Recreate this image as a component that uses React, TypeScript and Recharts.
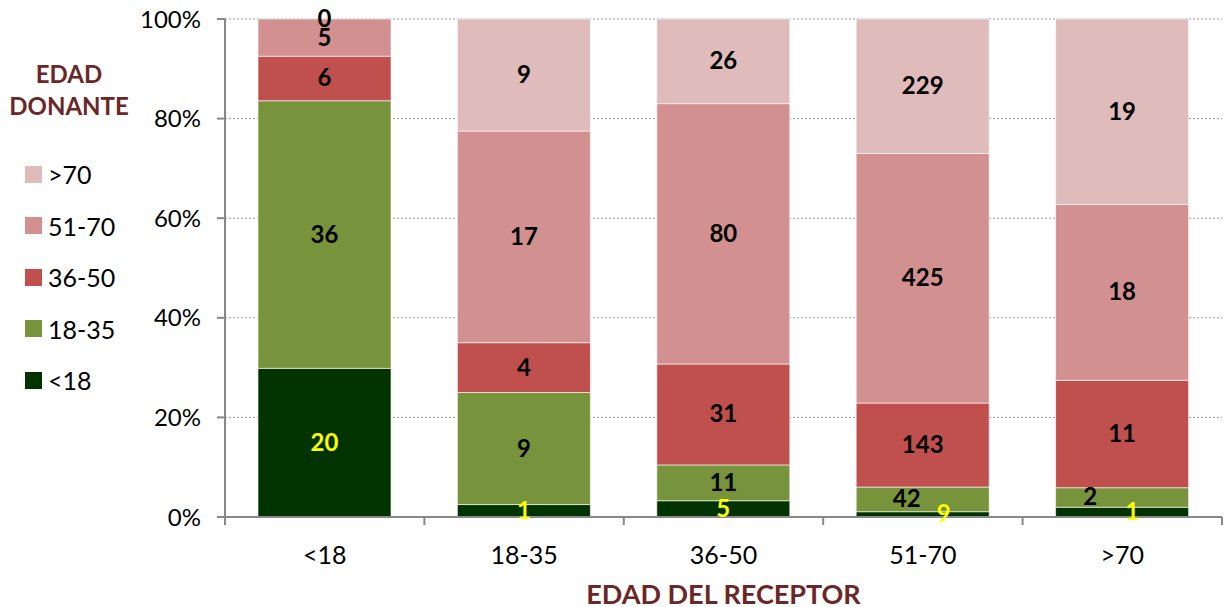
import { Bar, BarChart, CartesianGrid, LabelList, XAxis, YAxis } from "recharts";

// receptor age groups (x categories)
const receptorAges = ["<18", "18-35", "36-50", "51-70", ">70"];

// donor age groups (stacked series), bottom to top
const donorKeys = ["d18", "d1835", "d3650", "d5170", "d70"];
const donorLabels = ["<18", "18-35", "36-50", "51-70", ">70"];

// counts per receptor group
const donorUnder18 = [20, 1, 5, 9, 1];
const donor18to35 = [36, 9, 11, 42, 2];
const donor36to50 = [6, 4, 31, 143, 11];
const donor51to70 = [5, 17, 80, 425, 18];
const donorOver70 = [0, 9, 26, 229, 19];

const yTicks = [0, 0.2, 0.4, 0.6, 0.8, 1];

const seriesValues = [donorUnder18, donor18to35, donor36to50, donor51to70, donorOver70];
const colors = ["#003300", "#77933C", "#C0504D", "#D29090", "#E0BBBB"];
const labelColors = ["#FFFF00", "#000000", "#000000", "#000000", "#000000"];

const data = receptorAges.map((name, i) => {
  const row: Record<string, string | number> = { name };
  donorKeys.forEach((k, s) => {
    row[k] = seriesValues[s][i];
  });
  return row;
});

// manual label nudges (like the hand-moved labels in the original)
const nudgeX: Record<string, number> = { "0-3": 21, "0-4": 10, "1-3": -16, "1-4": -32 };

const FONT = "Lato, 'Open Sans', sans-serif";
const TITLE = "#6B2626";
const PLOT_LEFT = 225;
const PLOT_RIGHT = 1222;
const BAND = (PLOT_RIGHT - PLOT_LEFT) / receptorAges.length;
const HALF_BAND = BAND / 2;

function labelText(key: string, x: number, y: number, v: number, fill: string) {
  return (
    <text
      key={key}
      x={x}
      y={y}
      dy={8}
      textAnchor="middle"
      fontFamily={FONT}
      fontWeight="bold"
      fontSize={24}
      fill={fill}
    >
      {v}
    </text>
  );
}

function makeLabel(series: number) {
  return (props: any) => {
    const { x, y, width, height } = props;
    const mid = Number(x) + Number(width) / 2;
    // zero-size segments are skipped by recharts, so find the category from the position
    const cat = Math.round((mid - PLOT_LEFT - HALF_BAND) / BAND);
    const v = seriesValues[series][cat];
    const cx = mid + (nudgeX[`${series}-${cat}`] ?? 0);
    const cy = Number(y) + Number(height) / 2;
    const next = seriesValues[series + 1];
    return (
      <g>
        {labelText("v", cx, cy, v, labelColors[series])}
        {next && next[cat] === 0 && labelText("z", mid, Number(y), 0, labelColors[series + 1])}
      </g>
    );
  };
}

function XTick(props: any) {
  const { x, y, payload, index } = props;
  const last = index === receptorAges.length - 1;
  return (
    <g>
      <line x1={x - HALF_BAND} x2={x - HALF_BAND} y1={y - 8} y2={y} stroke="#888888" strokeWidth={2} />
      {last && <line x1={x + HALF_BAND} x2={x + HALF_BAND} y1={y - 8} y2={y} stroke="#888888" strokeWidth={2} />}
      <text x={x} y={y + 39} textAnchor="middle" fontFamily={FONT} fontSize={25} fill="#000">
        {payload.value}
      </text>
    </g>
  );
}

function DonorLegend() {
  const rows = donorLabels.map((l, i) => ({ l, c: colors[i] })).reverse();
  return (
    <div style={{ fontFamily: FONT, position: "absolute", left: 0, top: 0, width: 200, height: 600 }}>
      <div
        style={{
          position: "absolute",
          left: 0,
          top: 58,
          width: 138,
          textAlign: "center",
          color: TITLE,
          fontWeight: "bold",
          fontSize: 24,
          lineHeight: "32px",
        }}
      >
        EDAD
        <br />
        DONANTE
      </div>
      {rows.map((r, i) => (
        <div
          key={r.l}
          style={{
            position: "absolute",
            left: 25,
            top: 158 + i * 51.5,
            height: 32,
            display: "flex",
            alignItems: "center",
            fontSize: 25,
            color: "#000",
          }}
        >
          <span style={{ width: 17, height: 17, background: r.c, display: "inline-block", marginRight: 6 }} />
          {r.l}
        </div>
      ))}
    </div>
  );
}

export default function App() {
  return (
    <div style={{ position: "absolute", left: 0, top: 0, width: 1227, height: 607, background: "#fff" }}>
      <BarChart
        width={1227}
        height={607}
        data={data}
        stackOffset="expand"
        margin={{ top: 19, right: 5, left: 0, bottom: 0 }}
      >
        <CartesianGrid vertical={false} stroke="#999999" strokeDasharray="2 2" />
        <XAxis
          dataKey="name"
          height={90}
          axisLine={{ stroke: "#888888", strokeWidth: 2 }}
          tickLine={false}
          tick={<XTick />}
          interval={0}
          label={{
            value: "EDAD DEL RECEPTOR",
            position: "insideBottom",
            offset: 3,
            fill: TITLE,
            fontWeight: "bold",
            fontSize: 27,
            fontFamily: FONT,
          }}
        />
        <YAxis
          width={PLOT_LEFT}
          ticks={yTicks}
          domain={[0, 1]}
          tickFormatter={(v) => `${Math.round(v * 100)}%`}
          axisLine={{ stroke: "#888888", strokeWidth: 2 }}
          tickLine={{ stroke: "#888888", strokeWidth: 2 }}
          tickSize={8}
          tickMargin={16}
          tick={{ fill: "#000", fontSize: 24, fontFamily: FONT }}
        />
        {donorKeys.map((k, s) => (
          <Bar
            key={k}
            dataKey={k}
            name={donorLabels[s]}
            stackId="a"
            fill={colors[s]}
            stroke="rgba(255,255,255,0.6)"
            strokeWidth={1}
            barSize={133}
            isAnimationActive={false}
          >
            <LabelList dataKey={k} content={makeLabel(s)} />
          </Bar>
        ))}
      </BarChart>
      <DonorLegend />
    </div>
  );
}
